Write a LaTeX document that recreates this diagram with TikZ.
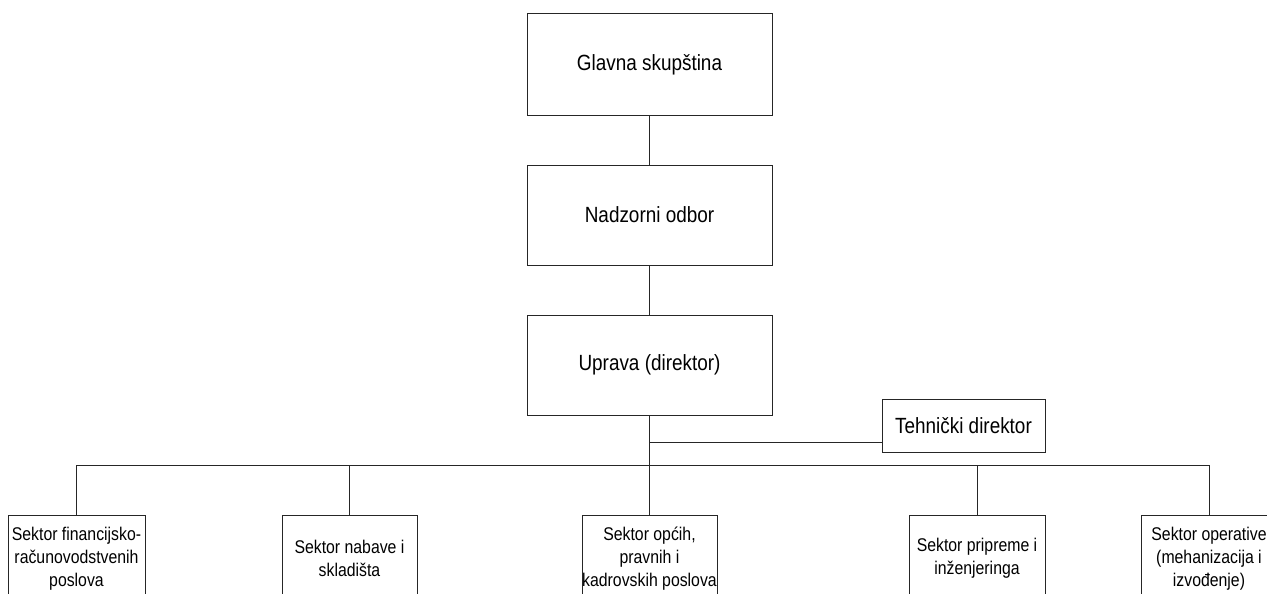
\documentclass[tikz,border=0pt]{standalone}
\usepackage{fontspec}
\setmainfont[FakeStretch=0.86]{Liberation Sans}
\begin{document}
\begin{tikzpicture}[x=1pt,y=-1pt,
  box/.style={draw=black!85,line width=1pt,fill=white,inner sep=0pt,align=center},
  bigbox/.style={box,minimum width=245pt,minimum height=100pt,font=\fontsize{22}{26}\selectfont},
  smallbox/.style={box,minimum height=86pt,anchor=north,font=\fontsize{18.4}{23}\selectfont},
  link/.style={draw=black!85,line width=1pt}]
\useasboundingbox (0,0) rectangle (1267,594);
\clip (0,0) rectangle (1267,594);
\fill[white] (0,0) rectangle (1267,594);
\node[bigbox,minimum height=101pt] (gs) at (649.5,64.5) {Glavna skupština};
\node[bigbox] (no) at (649.5,215) {Nadzorni odbor};
\node[bigbox] (up) at (649.5,365) {Uprava (direktor)};
\node[box,minimum width=163pt,minimum height=53pt,font=\fontsize{22}{26}\selectfont] (td) at (963.5,425.5) {Tehnički direktor};
\coordinate (j) at (649.5,442);
\coordinate (bus) at (649.5,465);
\node[smallbox,minimum width=137pt] (b1) at (76.5,515) {Sektor financijsko-\\računovodstvenih\\poslova};
\node[smallbox,minimum width=135pt] (b2) at (349.5,515) {Sektor nabave i\\skladišta};
\node[smallbox,minimum width=135pt] (b3) at (649.5,515) {Sektor općih,\\pravnih i\\kadrovskih poslova};
\node[smallbox,minimum width=136pt] (b4) at (977,515) {Sektor pripreme i\\inženjeringa};
\node[smallbox,minimum width=136pt] (b5) at (1209,515) {Sektor operative\\(mehanizacija i\\izvođenje)};
\draw[link] (gs) -- (no);
\draw[link] (no) -- (up);
\draw[link] (up.south) -- (bus);
\draw[link] (j) -- (td.west |- j);
\draw[link] (b1.north |- bus) -- (b5.north |- bus);
\foreach \b in {b1,b2,b3,b4,b5} \draw[link] (\b.north |- bus) -- (\b.north);
\end{tikzpicture}
\end{document}
